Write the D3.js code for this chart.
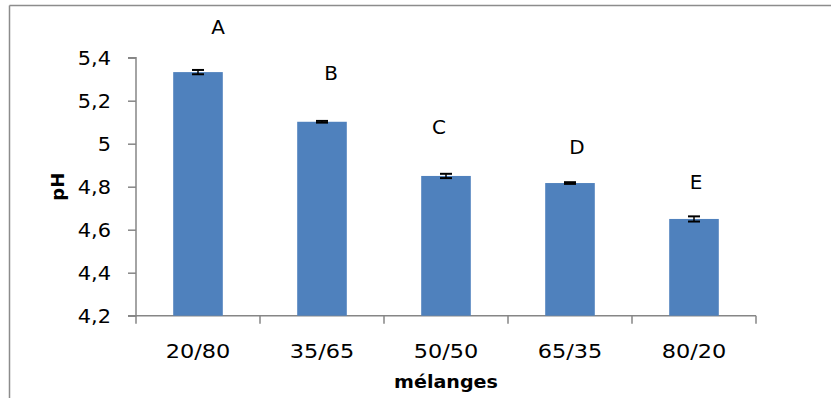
<!DOCTYPE html>
<html>
<head>
<meta charset="utf-8">
<script src="https://cdn.jsdelivr.net/npm/d3@7"></script>
<style>
  body { margin: 0; background: #fff; }
  text { font-family: "DejaVu Sans", sans-serif; fill: #000; }
</style>
</head>
<body>
<div class="chart-value"></div>
<script>
var width = 831, height = 398;

// data
var categories = ["20/80", "35/65", "50/50", "65/35", "80/20"];
var phValues = [5.333, 5.102, 4.850, 4.817, 4.650];
var phErrors = [0.010, 0.004, 0.010, 0.004, 0.012];
var letters = ["A", "B", "C", "D", "E"];
var letterLevels = [5.54, 5.33, 5.075, 4.985, 4.82];   // where the letters sit, in pH
var yTicks = [4.2, 4.4, 4.6, 4.8, 5, 5.2, 5.4];

var plot = {left: 136, right: 756, top: 57.7, bottom: 315.7};

var svg = d3.select(".chart-value")
    .append("svg")
    .attr("width", width)
    .attr("height", height);

// frame of the chart area (top and left edges are visible)
svg.append("line")
    .attr("x1", 9.5).attr("x2", width).attr("y1", 5.5).attr("y2", 5.5)
    .attr("stroke", "#8c8c8c").attr("stroke-width", 1.5);
svg.append("line")
    .attr("x1", 9.5).attr("x2", 9.5).attr("y1", 5.5).attr("y2", height)
    .attr("stroke", "#8c8c8c").attr("stroke-width", 1.5);

var x = d3.scaleBand()
    .domain(categories)
    .range([plot.left, plot.right])
    .paddingInner(0.6)
    .paddingOuter(0.3);

var y = d3.scaleLinear()
    .domain([4.2, 5.4])
    .range([plot.bottom, plot.top]);

// the source text is wider than the font, stretch it a bit
function widen(k) {
    return function(sel) {
        sel.each(function() {
            var w = this.getComputedTextLength();
            d3.select(this)
                .attr("textLength", w * k)
                .attr("lengthAdjust", "spacingAndGlyphs");
        });
    };
}

// y axis
var yAxis = d3.axisLeft(y)
    .tickValues(yTicks)
    .tickSize(8)
    .tickPadding(17)
    .tickFormat(function(d) { return d3.format("~g")(d).replace(".", ","); });

var gy = svg.append("g")
    .attr("transform", "translate(" + plot.left + ",0)")
    .call(yAxis);
gy.select(".domain").attr("stroke", "#868686").attr("stroke-width", 1.5)
    .attr("d", "M-8," + plot.top + "H0V" + plot.bottom + "H-8");
gy.selectAll(".tick line").attr("stroke", "#868686").attr("stroke-width", 1.5);
gy.selectAll(".tick text").attr("font-size", 19).attr("font-family", "DejaVu Sans").attr("dy", "0.36em").call(widen(1.1));

// x axis, ticks sit between the categories
var gx = svg.append("g")
    .attr("transform", "translate(0," + plot.bottom + ")");
gx.append("line")
    .attr("x1", plot.left).attr("x2", plot.right)
    .attr("stroke", "#868686").attr("stroke-width", 1.5);
var edges = d3.range(categories.length + 1).map(function(i) { return plot.left + i * (plot.right - plot.left) / categories.length; });
gx.selectAll(".xtick")
    .data(edges)
    .enter().append("line")
    .attr("x1", function(d) { return d; }).attr("x2", function(d) { return d; })
    .attr("y1", 0).attr("y2", 8)
    .attr("stroke", "#868686").attr("stroke-width", 1.5);
gx.selectAll(".xlabel")
    .data(categories)
    .enter().append("text")
    .attr("x", function(d) { return x(d) + x.bandwidth() / 2; })
    .attr("y", 42)
    .attr("text-anchor", "middle")
    .attr("font-size", 19)
    .text(function(d) { return d; })
    .call(widen(1.18));

// bars
svg.selectAll(".bar")
    .data(phValues)
    .enter().append("rect")
    .attr("x", function(d, i) { return x(categories[i]); })
    .attr("y", function(d) { return y(d); })
    .attr("width", x.bandwidth())
    .attr("height", function(d) { return y(4.2) - y(d); })
    .attr("fill", "#4f81bd");

// error bars
var err = svg.selectAll(".err")
    .data(phValues)
    .enter().append("g")
    .attr("transform", function(d, i) { return "translate(" + (x(categories[i]) + x.bandwidth() / 2) + ",0)"; });
err.append("line")
    .attr("y1", function(d, i) { return y(d + phErrors[i]); })
    .attr("y2", function(d, i) { return y(d - phErrors[i]); })
    .attr("stroke", "#000").attr("stroke-width", 1.5);
err.append("line")
    .attr("x1", -6).attr("x2", 6)
    .attr("y1", function(d, i) { return y(d + phErrors[i]); })
    .attr("y2", function(d, i) { return y(d + phErrors[i]); })
    .attr("stroke", "#000").attr("stroke-width", 2);
err.append("line")
    .attr("x1", -6).attr("x2", 6)
    .attr("y1", function(d, i) { return y(d - phErrors[i]); })
    .attr("y2", function(d, i) { return y(d - phErrors[i]); })
    .attr("stroke", "#000").attr("stroke-width", 2);

// significance letters
var letterShift = [20, 9, -7, 7, 2];
svg.selectAll(".letter")
    .data(letters)
    .enter().append("text")
    .attr("x", function(d, i) { return x(categories[i]) + x.bandwidth() / 2 + letterShift[i]; })
    .attr("y", function(d, i) { return y(letterLevels[i]); })
    .attr("dy", "0.36em")
    .attr("text-anchor", "middle")
    .attr("font-size", 19)
    .text(function(d) { return d; })
    .call(widen(1.05));

// axis titles
svg.append("text")
    .attr("x", (plot.left + plot.right) / 2)
    .attr("y", 388)
    .attr("text-anchor", "middle")
    .attr("font-size", 18)
    .attr("font-weight", "bold")
    .text("mélanges")
    .call(widen(1.06));

svg.append("text")
    .attr("transform", "translate(64," + ((plot.top + plot.bottom) / 2) + ") rotate(-90)")
    .attr("text-anchor", "middle")
    .attr("font-size", 18)
    .attr("font-weight", "bold")
    .text("pH");
</script>
</body>
</html>
